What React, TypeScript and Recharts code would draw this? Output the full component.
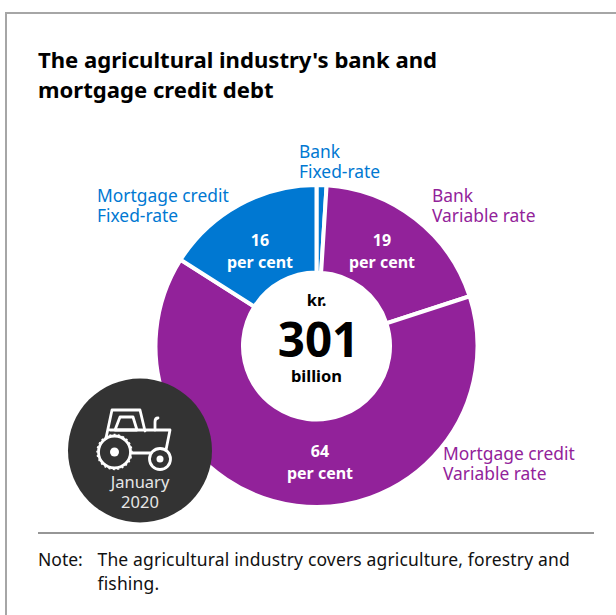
import { Cell, Pie, PieChart } from 'recharts'

const segments = ['Bank fixed-rate', 'Bank variable rate', 'Mortgage credit variable rate', 'Mortgage credit fixed-rate']
const shares = [1, 19, 64, 16]
const colors = ['#0078d2', '#92229a', '#92229a', '#0078d2']

const BLUE = '#0078d2'
const PURPLE = '#92229a'
const FONT = '"Noto Sans", sans-serif'

const CX = 316.5
const CY = 346

// where each share label sits; the thin first slice has none
const shareLabelPos = [null, { x: 382, y: 246 }, { x: 320, y: 457 }, { x: 260, y: 246 }]

const data = segments.map((name, i) => ({ name, value: shares[i] }))

function ShareLabel(props: any) {
  const pos = shareLabelPos[props.index]
  if (!pos) return null
  return (
    <text x={pos.x} textAnchor="middle" fill="#fff" fontFamily={FONT} fontSize={16} fontWeight={700}>
      <tspan x={pos.x} y={pos.y}>{props.value}</tspan>
      <tspan x={pos.x} y={pos.y + 22}>per cent</tspan>
    </text>
  )
}

function OuterLabel({ x, y, lines, color }: { x: number; y: number; lines: string[]; color: string }) {
  return (
    <div style={{ position: 'absolute', left: x, top: y, color, fontSize: 17.4, lineHeight: '20px', whiteSpace: 'nowrap' }}>
      {lines.map((l) => <div key={l}>{l}</div>)}
    </div>
  )
}

function Badge() {
  return (
    <svg width={616} height={615} style={{ position: 'absolute', left: 0, top: 0 }}>
      <circle cx={140} cy={450.5} r={72} fill="#333333" />
      <g fill="none" stroke="#fff" strokeWidth={2.8} strokeLinejoin="round" strokeLinecap="round">
        <path d="M106 438 L112 410 L140 410 L145 431 M110 430 L170 430 L166 450" />
        <path d="M115 430 L120 417 L133 417 L137 430 Z" />
        <path d="M155 430 L155 422 Q155 418 158 418" />
        <circle cx={114.5} cy={452} r={16} />
        <path d="M132 453 L150 453" />
        <circle cx={160} cy={459} r={10.5} />
      </g>
      {/* wheel tread */}
      <circle cx={114.5} cy={452} r={17.5} fill="none" stroke="#fff" strokeWidth={1.4} strokeDasharray="2 2.5" />
      <circle cx={114.5} cy={452} r={4.5} fill="#fff" />
      <circle cx={160} cy={459} r={3.5} fill="#fff" />
      <text x={140} y={488} textAnchor="middle" fill="#e6e6e6" fontFamily={FONT} fontSize={16.5}>January</text>
      <text x={140} y={508} textAnchor="middle" fill="#e6e6e6" fontFamily={FONT} fontSize={16.5}>2020</text>
    </svg>
  )
}

export default function App() {
  return (
    <div style={{ position: 'fixed', left: 0, top: 0, width: 616, height: 615, overflow: 'hidden', background: '#fff', fontFamily: FONT }}>
      <div style={{ position: 'absolute', left: 5, top: 12, width: 700, height: 700, border: '2px solid #a6a6a6' }} />

      <div style={{ position: 'absolute', left: 38, top: 44, fontSize: 22.1, lineHeight: '30px', fontWeight: 700, color: '#000', whiteSpace: 'nowrap' }}>
        <div>The agricultural industry's bank and</div>
        <div>mortgage credit debt</div>
      </div>

      <div style={{ position: 'absolute', left: 0, top: 0 }}>
        <PieChart width={616} height={615} margin={{ top: 0, right: 0, bottom: 0, left: 0 }}>
          <Pie
            data={data}
            dataKey="value"
            cx={CX}
            cy={CY}
            innerRadius={73.5}
            outerRadius={161}
            startAngle={90}
            endAngle={-270}
            stroke="#fff"
            strokeWidth={4}
            label={ShareLabel}
            labelLine={false}
            isAnimationActive={false}
          >
            {data.map((d, i) => <Cell key={d.name} fill={colors[i]} />)}
          </Pie>
        </PieChart>
      </div>

      <OuterLabel x={299} y={141} lines={['Bank', 'Fixed-rate']} color={BLUE} />
      <OuterLabel x={97} y={185} lines={['Mortgage credit', 'Fixed-rate']} color={BLUE} />
      <OuterLabel x={432} y={185} lines={['Bank', 'Variable rate']} color={PURPLE} />
      <OuterLabel x={443} y={443} lines={['Mortgage credit', 'Variable rate']} color={PURPLE} />

      <div style={{ position: 'absolute', left: CX - 60, width: 120, top: 290, textAlign: 'center', fontWeight: 700, fontSize: 16.5, lineHeight: '20px', color: '#000' }}>kr.</div>
      <div style={{ position: 'absolute', left: CX - 58, width: 120, top: 313, textAlign: 'center', fontWeight: 700, fontSize: 47.5, lineHeight: '52px', color: '#000' }}>301</div>
      <div style={{ position: 'absolute', left: CX - 60, width: 120, top: 366, textAlign: 'center', fontWeight: 700, fontSize: 16.5, lineHeight: '20px', color: '#000' }}>billion</div>

      <Badge />

      <div style={{ position: 'absolute', left: 38, top: 532, width: 556, height: 2, background: '#969696' }} />
      <div style={{ position: 'absolute', left: 38, top: 547, fontSize: 17.5, lineHeight: '24px', color: '#111' }}>Note:</div>
      <div style={{ position: 'absolute', left: 97.5, top: 547, width: 490, fontSize: 17.5, lineHeight: '24px', letterSpacing: 0.16, color: '#111' }}>
        The agricultural industry covers agriculture, forestry and fishing.
      </div>
    </div>
  )
}
